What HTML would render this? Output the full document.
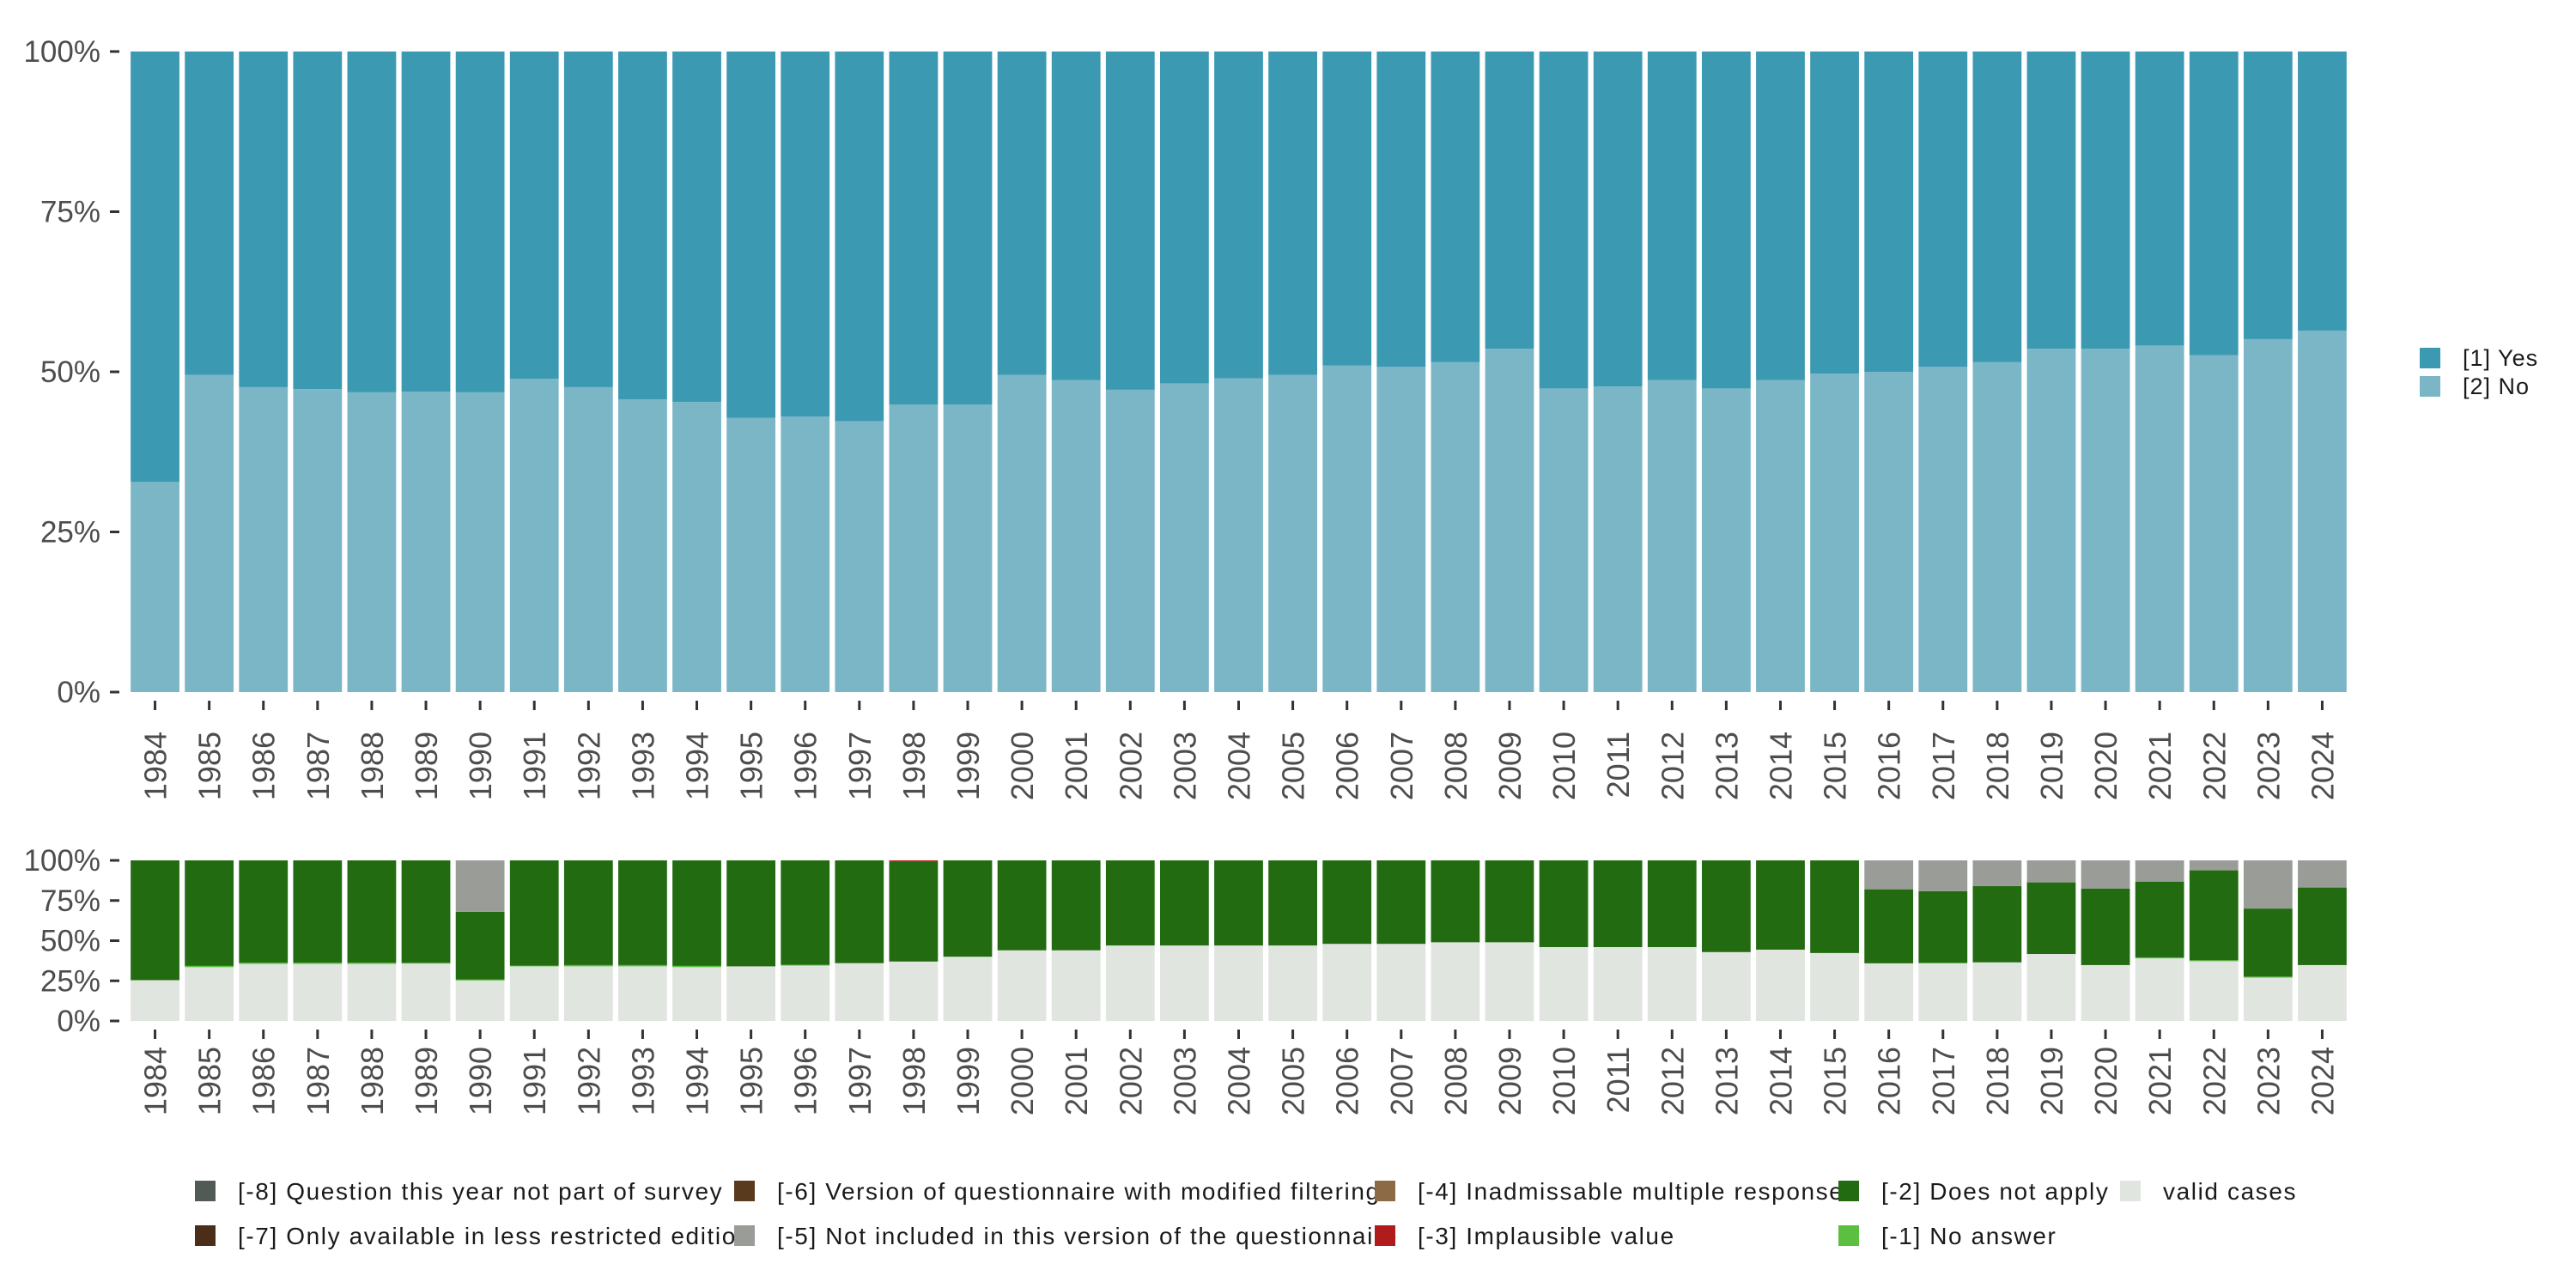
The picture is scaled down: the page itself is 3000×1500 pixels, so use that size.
<!DOCTYPE html>
<html><head><meta charset="utf-8"><style>
html,body{margin:0;padding:0;background:#fff;}
svg{display:block;font-family:"Liberation Sans",sans-serif;}
</style></head><body>
<svg id="chart" width="3000" height="1500" viewBox="0 0 3000 1500" xmlns="http://www.w3.org/2000/svg">
<g id="top"></g>
<g id="bot"></g>
<g id="legTop"></g>
<g id="legBot"></g>
</svg>
<script>
const years = [1984,1985,1986,1987,1988,1989,1990,1991,1992,1993,1994,1995,1996,1997,1998,1999,2000,2001,2002,2003,2004,2005,2006,2007,2008,2009,2010,2011,2012,2013,2014,2015,2016,2017,2018,2019,2020,2021,2022,2023,2024];
const noShare = [0.328,0.495,0.476,0.473,0.468,0.469,0.468,0.489,0.476,0.457,0.453,0.428,0.430,0.423,0.449,0.449,0.495,0.487,0.472,0.482,0.490,0.495,0.510,0.508,0.515,0.536,0.474,0.477,0.487,0.474,0.487,0.497,0.500,0.508,0.515,0.536,0.536,0.541,0.526,0.551,0.564];
const validShare = [0.254,0.335,0.355,0.355,0.355,0.357,0.252,0.340,0.340,0.340,0.335,0.340,0.345,0.360,0.370,0.400,0.440,0.440,0.470,0.470,0.470,0.470,0.480,0.480,0.490,0.490,0.460,0.460,0.460,0.429,0.444,0.423,0.359,0.358,0.365,0.417,0.348,0.390,0.372,0.270,0.348];
const noAnswerShare = [0,0.008,0.008,0.008,0.008,0.005,0.006,0.004,0.008,0.008,0.008,0,0.005,0,0,0,0,0,0,0,0,0,0,0,0,0,0,0,0,0,0,0,0,0.005,0,0,0,0.006,0.006,0.006,0];
const notIncludedShare = [0,0,0,0,0,0,0.320,0,0,0,0,0,0,0,0,0,0,0,0,0,0,0,0,0,0,0,0,0,0,0,0,0,0.180,0.192,0.160,0.137,0.175,0.132,0.062,0.300,0.169];
const implausibleShare = [0,0,0,0,0,0,0,0,0,0,0,0,0,0,0.01,0,0,0,0,0,0,0,0,0,0,0,0,0,0,0,0,0,0,0,0,0,0,0,0,0,0];
const yTicks = [0,0.25,0.5,0.75,1];
const yTickLabels = ["0%","25%","50%","75%","100%"];

const NS="http://www.w3.org/2000/svg";
function mk(tag,attrs,parent){const e=document.createElementNS(NS,tag);for(const k in attrs)e.setAttribute(k,attrs[k]);parent.appendChild(e);return e;}
const X0=149,X1=2736,pitch=(X1-X0)/years.length,bw=pitch*0.9;
function xc(i){return X0+pitch*(i+0.5);}

function panel(g,yTop,yBot,labelY,segsFn,prefix){
  const ys=v=>yBot-(yBot-yTop)*v;
  years.forEach((yr,i)=>{
    const segs=segsFn(i);let acc=0;
    segs.forEach(s=>{
      if(s.v<=0)return;
      const r=mk('rect',{x:xc(i)-bw/2,y:ys(acc+s.v),width:bw,height:ys(acc)-ys(acc+s.v),fill:s.c},g);
      
      
      acc+=s.v;
    });
    const t=mk('rect',{x:xc(i)-1.5,y:yBot+10,width:3,height:11,fill:'#333'},g);
    
    
    const tx=mk('text',{transform:`translate(${xc(i)+13},${labelY}) rotate(-90)`,'text-anchor':'end','font-size':36,fill:'#4d4d4d'},g);
    tx.textContent=yr;
    
    
  });
  yTicks.forEach((v,k)=>{
    const t=mk('rect',{x:128,y:ys(v)-1.5,width:11,height:3,fill:'#333'},g);
    
    
    const tx=mk('text',{x:117,y:ys(v)+12,'text-anchor':'end','font-size':35,fill:'#4d4d4d'},g);
    tx.textContent=yTickLabels[k];
    
    
  });
}
panel(document.getElementById('top'),60,806,852,i=>[
  {n:'no',v:noShare[i],c:'#7ab6c6'},{n:'yes',v:1-noShare[i],c:'#3c99b2'}],'top');
panel(document.getElementById('bot'),1002,1189,1219,i=>{
  const rest=1-validShare[i]-noAnswerShare[i]-notIncludedShare[i]-implausibleShare[i];
  return [{n:'valid',v:validShare[i],c:'#e1e5e0'},{n:'no-answer',v:noAnswerShare[i],c:'#5bbf40'},
    {n:'does-not-apply',v:rest,c:'#226b11'},{n:'implausible',v:implausibleShare[i],c:'#b01c1c'},
    {n:'not-included',v:notIncludedShare[i],c:'#999c97'}];
},'bot');

const lt=document.getElementById('legTop');
[["[1] Yes","#3c99b2",405],["[2] No","#7ab6c6",438]].forEach(d=>{
  const r=mk('rect',{x:2818,y:d[2],width:24,height:24,fill:d[1]},lt);
  
  
  const t=mk('text',{x:2868,y:d[2]+21,'font-size':27,'letter-spacing':1,fill:'#1a1a1a'},lt);
  t.textContent=d[0];
  
  
});
const lb=document.getElementById('legBot');
const legItems=[
 ["[-8] Question this year not part of survey","#525a55",227,1387],
 ["[-7] Only available in less restricted edition","#4a2e1a",227,1439],
 ["[-6] Version of questionnaire with modified filtering","#5a3a1c",855,1387],
 ["[-5] Not included in this version of the questionnaire","#999c97",855,1439],
 ["[-4] Inadmissable multiple response","#8b6a45",1601,1387],
 ["[-3] Implausible value","#b01c1c",1601,1439],
 ["[-2] Does not apply","#226b11",2141,1387],
 ["[-1] No answer","#5bbf40",2141,1439],
 ["valid cases","#e1e5e0",2469,1387]];
legItems.forEach(d=>{
  const r=mk('rect',{x:d[2],y:d[3]-12,width:24,height:24,fill:d[1]},lb);
  
  
  const t=mk('text',{x:d[2]+50,y:d[3]+10,'font-size':28,'letter-spacing':1.6,fill:'#1a1a1a'},lb);
  t.textContent=d[0];
  
  
});
</script>
</body></html>
